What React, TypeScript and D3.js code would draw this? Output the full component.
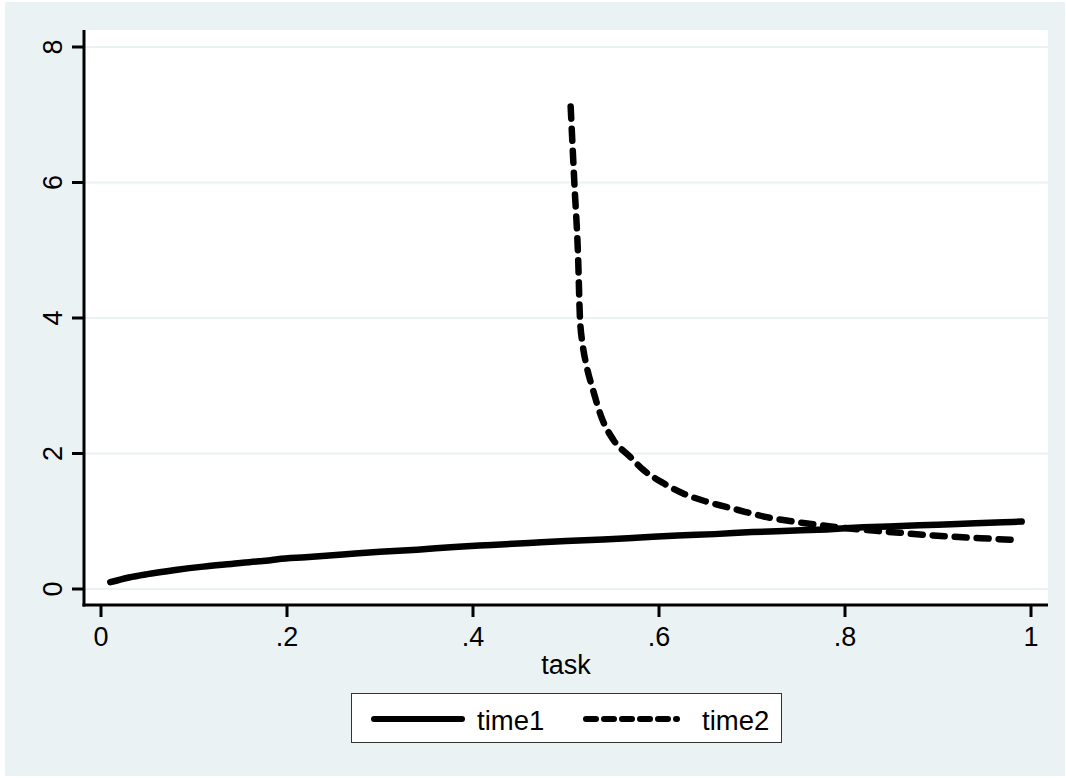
import React from "react";
import * as d3 from "d3";

const task1 = [0.01,0.03,0.05,0.08,0.11,0.14,0.17,0.18,0.19,0.22,0.26,0.3,0.34,0.38,0.42,0.46,0.5,0.54,0.58,0.62,0.66,0.7,0.74,0.78,0.82,0.86,0.9,0.94,0.97,0.99];
const time1 = [0.10,0.17,0.22,0.28,0.33,0.37,0.41,0.42,0.44,0.47,0.51,0.55,0.58,0.62,0.65,0.68,0.71,0.73,0.76,0.79,0.81,0.84,0.86,0.88,0.91,0.93,0.95,0.97,0.985,0.995];
const task2 = [0.505,0.509,0.513,0.515,0.518,0.522,0.529,0.538,0.551,0.569,0.583,0.605,0.626,0.651,0.684,0.716,0.752,0.787,0.823,0.859,0.895,0.931,0.96,0.985];
const time2 = [7.12,5.99,4.90,4.0,3.6,3.3,2.94,2.54,2.20,1.95,1.76,1.56,1.41,1.29,1.17,1.06,0.98,0.92,0.87,0.83,0.79,0.76,0.74,0.72];
const xTicks = [0, 0.2, 0.4, 0.6, 0.8, 1];
const xTickLabels = ["0", ".2", ".4", ".6", ".8", "1"];
const yTicks = [0, 2, 4, 6, 8];
const legendLabels = ["time1", "time2"];

const W = 1066, H = 778;
const BG = "#EAF2F3";
const FONT = "'Liberation Sans', Arial, Helvetica, sans-serif";

export default function App() {
  const x = d3.scaleLinear().domain([0, 1]).range([101, 1031]);
  const y = d3.scaleLinear().domain([0, 8]).range([589, 47]);
  const plotL = 84, plotR = 1048, plotT = 30, plotB = 605;

  const line = d3.line<[number, number]>().x(d => x(d[0])).y(d => y(d[1])).curve(d3.curveMonotoneX);
  const d1 = line(task1.map((t, i) => [t, time1[i]]) as [number, number][]) || "";
  const d2 = line(task2.map((t, i) => [t, time2[i]]) as [number, number][]) || "";

  return (
    <svg width={W} height={H} style={{ position: "absolute", left: 0, top: 0, background: "#fff" }} fontFamily={FONT}>
      <rect x={5} y={2} width={1060} height={774} fill={BG} />
      <rect x={plotL} y={plotT} width={plotR - plotL} height={plotB - plotT} fill="#fff" />
      {yTicks.map(t => (
        <line key={"g" + t} x1={plotL} x2={plotR} y1={y(t)} y2={y(t)} stroke={BG} strokeWidth={2} />
      ))}
      <path d={d1} fill="none" stroke="#000" strokeWidth={6.5} strokeLinecap="round" strokeLinejoin="round" />
      <path d={d2} fill="none" stroke="#000" strokeWidth={6.5} strokeLinecap="round" strokeLinejoin="round" strokeDasharray="12 10" />
      <line x1={plotL} x2={plotL} y1={plotT} y2={plotB + 1.5} stroke="#000" strokeWidth={3} />
      <line x1={plotL - 1.5} x2={plotR} y1={plotB} y2={plotB} stroke="#000" strokeWidth={3} />
      {yTicks.map(t => (
        <g key={"y" + t}>
          <line x1={plotL - 12} x2={plotL} y1={y(t)} y2={y(t)} stroke="#000" strokeWidth={3} />
          <text transform={`translate(62,${y(t)}) rotate(-90)`} textAnchor="middle" fontSize={27} fill="#000">{t}</text>
        </g>
      ))}
      {xTicks.map((t, i) => (
        <g key={"x" + t}>
          <line x1={x(t)} x2={x(t)} y1={plotB} y2={plotB + 12} stroke="#000" strokeWidth={3} />
          <text x={x(t)} y={646} textAnchor="middle" fontSize={27} fill="#000">{xTickLabels[i]}</text>
        </g>
      ))}
      <text x={566} y={674} textAnchor="middle" fontSize={27} fill="#000">task</text>
      <rect x={351.5} y={693.5} width={430} height={49} fill="#fff" stroke="#333" strokeWidth={1} />
      <line x1={374} x2={462} y1={719} y2={719} stroke="#000" strokeWidth={6} strokeLinecap="round" />
      <text x={477} y={730} fontSize={27.5} fill="#000">{legendLabels[0]}</text>
      <line x1={586} x2={677} y1={719} y2={719} stroke="#000" strokeWidth={6} strokeLinecap="round" strokeDasharray="10 8" />
      <text x={702} y={730} fontSize={27.5} fill="#000">{legendLabels[1]}</text>
    </svg>
  );
}
